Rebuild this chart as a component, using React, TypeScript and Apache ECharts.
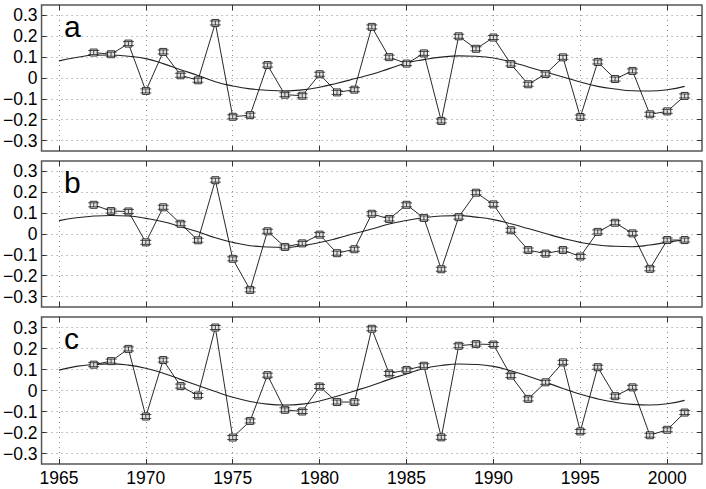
import React, { useEffect, useRef } from "react";
import * as echarts from "echarts";

const years = Array.from({ length: 35 }, (_, i) => 1967 + i);
const curveYears = Array.from({ length: 37 }, (_, i) => 1965 + i);

const panelLabels = ["a", "b", "c"];

const aValues = [
  0.122, 0.114, 0.165, -0.062, 0.125, 0.013, -0.011, 0.264, -0.186, -0.178, 0.062, -0.08, -0.085, 0.018, -0.069, -0.056,
  0.245, 0.1, 0.069, 0.118, -0.206, 0.2, 0.14, 0.194, 0.067, -0.03, 0.019, 0.099, -0.187, 0.077, -0.005, 0.034, -0.174, -0.16, -0.086,
];
const bValues = [
  0.14, 0.11, 0.108, -0.04, 0.128, 0.049, -0.03, 0.258, -0.119, -0.268, 0.013, -0.062, -0.045, -0.003, -0.092, -0.073,
  0.097, 0.072, 0.14, 0.077, -0.169, 0.081, 0.198, 0.142, 0.018, -0.077, -0.094, -0.077, -0.108, 0.01, 0.054, 0.003, -0.167, -0.029, -0.029,
];
const cValues = [
  0.123, 0.14, 0.198, -0.124, 0.145, 0.021, -0.024, 0.3, -0.224, -0.145, 0.073, -0.092, -0.1, 0.019, -0.055, -0.055,
  0.294, 0.081, 0.098, 0.118, -0.223, 0.213, 0.221, 0.219, 0.071, -0.04, 0.039, 0.134, -0.195, 0.111, -0.027, 0.015, -0.213, -0.187, -0.105,
];

const aCurve = [
  0.082, 0.098, 0.109, 0.11, 0.104, 0.093, 0.069, 0.04, 0.012, -0.018, -0.038, -0.052, -0.059, -0.062, -0.057, -0.044, -0.025, -0.004,
  0.018, 0.045, 0.072, 0.088, 0.1, 0.106, 0.104, 0.096, 0.077, 0.053, 0.029, 0.005, -0.019, -0.04, -0.053, -0.061, -0.062, -0.056, -0.04,
];
const bCurve = [
  0.064, 0.078, 0.086, 0.089, 0.086, 0.075, 0.059, 0.035, 0.011, -0.018, -0.04, -0.056, -0.062, -0.064, -0.056, -0.041, -0.021, 0.002,
  0.024, 0.048, 0.065, 0.078, 0.086, 0.088, 0.081, 0.069, 0.049, 0.026, 0.002, -0.021, -0.04, -0.053, -0.059, -0.061, -0.053, -0.04, -0.029,
];
const cCurve = [
  0.097, 0.115, 0.124, 0.127, 0.121, 0.106, 0.082, 0.053, 0.024, -0.005, -0.032, -0.052, -0.065, -0.069, -0.065, -0.05, -0.027, -0.002,
  0.024, 0.053, 0.079, 0.105, 0.119, 0.126, 0.124, 0.115, 0.094, 0.068, 0.039, 0.01, -0.018, -0.04, -0.056, -0.066, -0.069, -0.063, -0.047,
];

const xTicks = [1965, 1970, 1975, 1980, 1985, 1990, 1995, 2000];
const yTicks = [-0.3, -0.2, -0.1, 0, 0.1, 0.2, 0.3];

const FONT = "Liberation Sans";

export default function App() {
  const ref = useRef<HTMLDivElement>(null);
  useEffect(() => {
    document.body.style.margin = "0";
    const chart = echarts.init(ref.current!, null, { renderer: "svg" });
    const values = [aValues, bValues, cValues];
    const curves = [aCurve, bCurve, cCurve];
    const grids = [
      { left: 40, top: 5, width: 662, height: 146 },
      { left: 40, top: 161, width: 662, height: 146 },
      { left: 40, top: 317, width: 662, height: 147 },
    ].map((g) => ({ ...g, show: true, borderColor: "#555", borderWidth: 1.5, backgroundColor: "#fff" }));

    const tickStyle = { color: "#333", width: 1 };
    const gridLine = { show: true, lineStyle: { type: [1, 4], color: "#8a8a8a", width: 1 } };
    const xAxes: any[] = [];
    const yAxes: any[] = [];
    const series: any[] = [];
    const graphics: any[] = [];
    for (let i = 0; i < 3; i++) {
      xAxes.push({
        gridIndex: i,
        type: "value",
        min: 1964,
        max: 2002,
        splitNumber: 8,
        position: "bottom",
        axisLine: { show: false, onZero: false },
        axisTick: { show: true, inside: true, length: 5, customValues: xTicks, lineStyle: tickStyle },
        axisLabel: {
          show: i === 2,
          customValues: xTicks,
          fontSize: 17.5,
          color: "#000",
          fontFamily: FONT,
          margin: 5,
          formatter: (v: number) => String(v),
        },
        splitLine: gridLine,
      });
      xAxes.push({
        gridIndex: i,
        type: "value",
        min: 1964,
        max: 2002,
        splitNumber: 8,
        position: "top",
        axisLine: { show: false, onZero: false },
        axisTick: { show: true, inside: true, length: 5, customValues: xTicks, lineStyle: tickStyle },
        axisLabel: { show: false },
        splitLine: { show: false },
      });
      yAxes.push({
        gridIndex: i,
        type: "value",
        min: -0.35,
        max: 0.35,
        splitNumber: 7,
        position: "left",
        axisLine: { show: false, onZero: false },
        axisTick: { show: true, inside: true, length: 5, customValues: yTicks, lineStyle: tickStyle },
        axisLabel: {
          customValues: yTicks,
          fontSize: 17.5,
          color: "#000",
          fontFamily: FONT,
          margin: 4,
          formatter: (v: number) => {
            const r = Math.round(v * 10) / 10;
            if (r === 0) return "0";
            return (r < 0 ? "\u2212" : "") + Math.abs(r).toFixed(1);
          },
        },
        splitLine: gridLine,
      });
      yAxes.push({
        gridIndex: i,
        type: "value",
        min: -0.35,
        max: 0.35,
        splitNumber: 7,
        position: "right",
        axisLine: { show: false, onZero: false },
        axisTick: { show: true, inside: true, length: 5, customValues: yTicks, lineStyle: tickStyle },
        axisLabel: { show: false },
        splitLine: { show: false },
      });
      const pts = years.map((y, k) => [y, values[i][k]]);
      const cpts = curveYears.map((y, k) => [y, curves[i][k]]);
      series.push({
        type: "line",
        xAxisIndex: 2 * i,
        yAxisIndex: 2 * i,
        data: cpts,
        smooth: 0.5,
        symbol: "none",
        lineStyle: { color: "#222", width: 1.1 },
        z: 2,
      });
      series.push({
        type: "line",
        xAxisIndex: 2 * i,
        yAxisIndex: 2 * i,
        data: pts,
        symbol: "none",
        lineStyle: { color: "#111", width: 0.9 },
        z: 3,
      });
      series.push({
        type: "custom",
        xAxisIndex: 2 * i,
        yAxisIndex: 2 * i,
        data: pts,
        z: 4,
        renderItem: (_p: any, api: any) => {
          const c = api.coord([api.value(0), api.value(1)]);
          const x = c[0];
          const y = c[1];
          const st = { stroke: "#222", lineWidth: 0.8, fill: "none" };
          return {
            type: "group",
            children: [
              { type: "rect", shape: { x: x - 3.5, y: y - 3.5, width: 7, height: 7 }, style: { fill: "#e2e2e2", stroke: "#222", lineWidth: 0.9 } },
              { type: "line", shape: { x1: x - 5.5, y1: y - 2, x2: x + 5.5, y2: y - 2 }, style: st },
              { type: "line", shape: { x1: x - 5.5, y1: y + 2, x2: x + 5.5, y2: y + 2 }, style: st },
              { type: "line", shape: { x1: x, y1: y - 2, x2: x, y2: y + 2 }, style: st },
            ],
          };
        },
      });
      graphics.push({
        type: "text",
        left: 64,
        top: [5, 161, 317][i] + 6,
        style: { text: panelLabels[i], font: `30px "${FONT}"`, fill: "#000" },
        z: 10,
      });
    }

    chart.setOption({
      animation: false,
      backgroundColor: "#fff",
      grid: grids,
      xAxis: xAxes,
      yAxis: yAxes,
      series,
      graphic: graphics,
    });
    return () => chart.dispose();
  }, []);
  return <div ref={ref} style={{ width: 706, height: 489 }} />;
}
